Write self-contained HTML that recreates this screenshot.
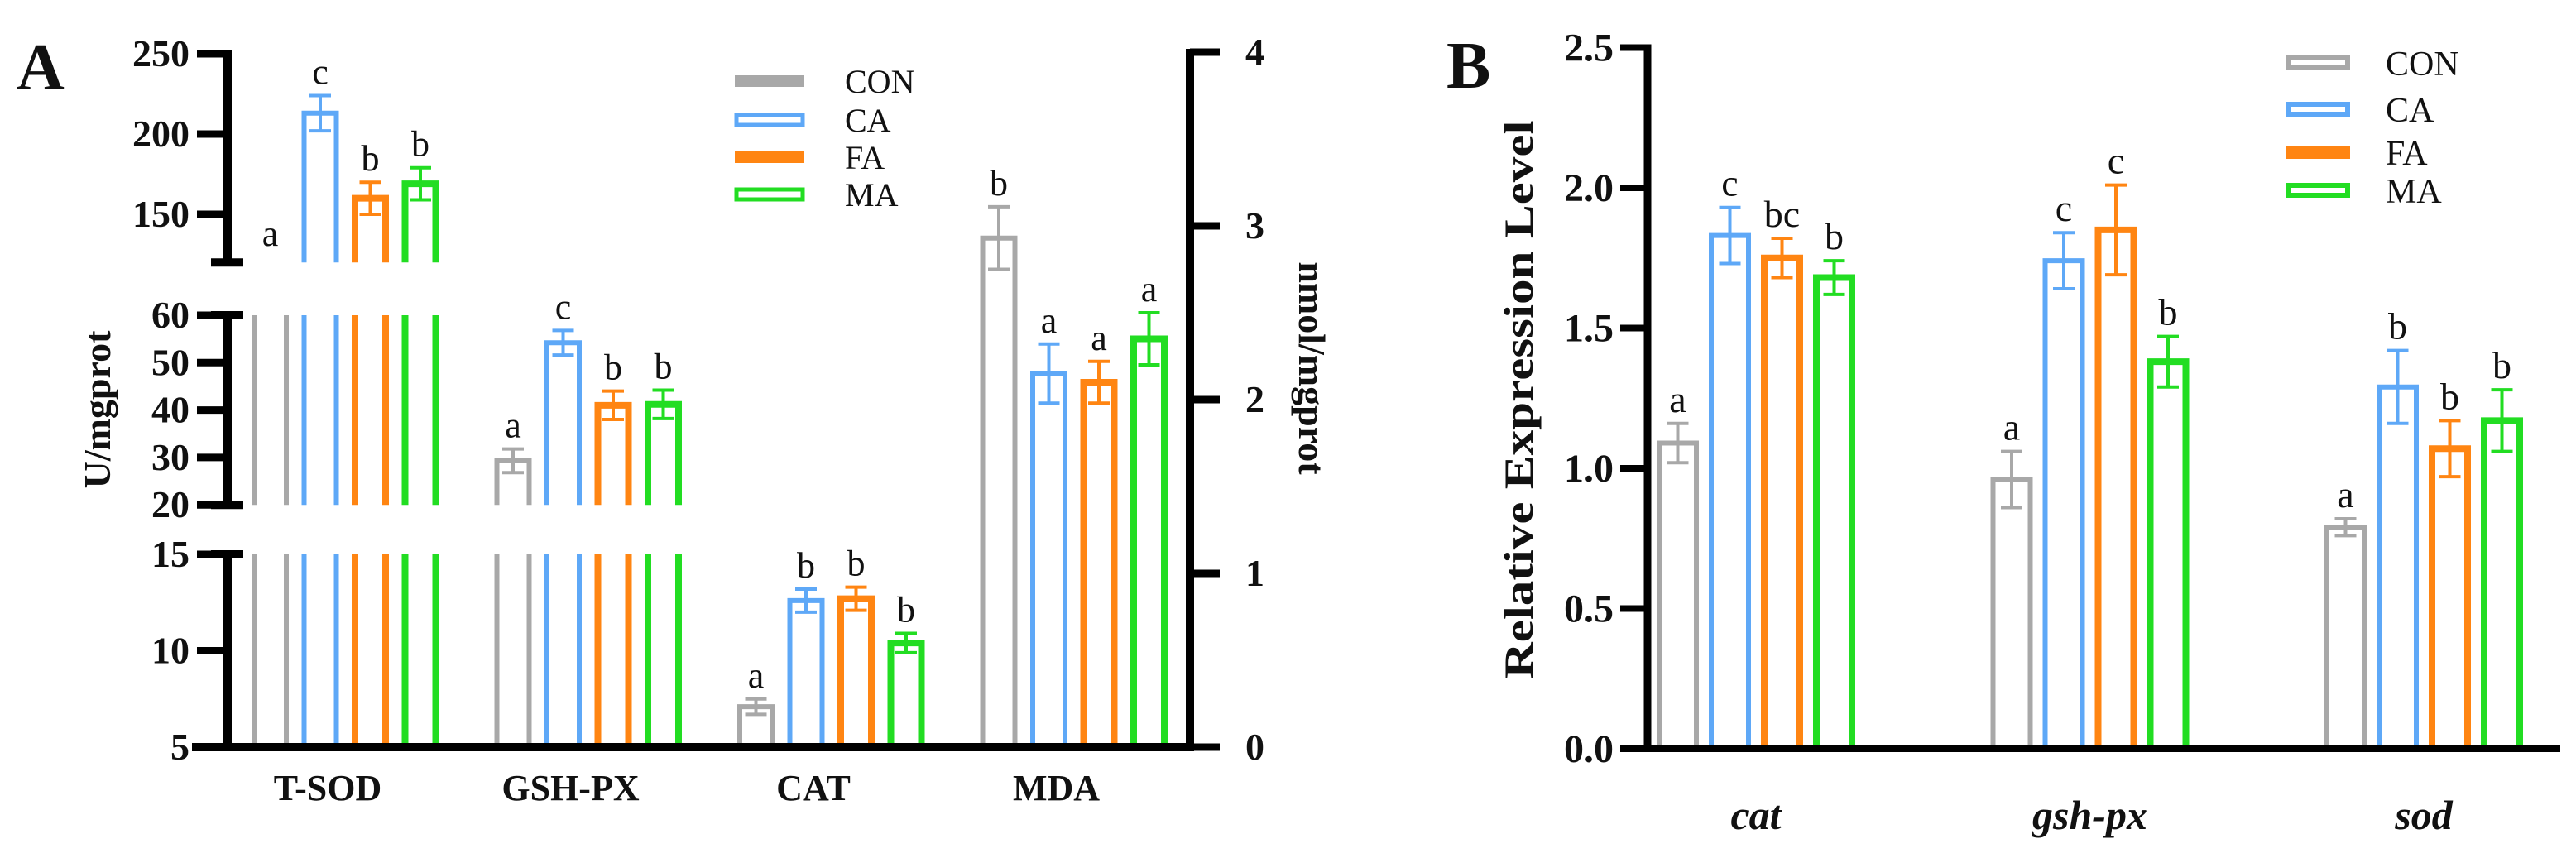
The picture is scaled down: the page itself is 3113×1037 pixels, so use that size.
<!DOCTYPE html>
<html><head><meta charset="utf-8"><style>
html,body{margin:0;padding:0;background:#fff;}
svg{display:block;}
text{font-family:"Liberation Serif","Times New Roman",serif;fill:#111;}
</style></head>
<body>
<svg id="chart" width="3113" height="1037" viewBox="0 0 3113 1037" xmlns="http://www.w3.org/2000/svg">
<g id="panelA"></g>
<g id="panelB"></g>
</svg>
<script>
// ---------- DATA ----------
const groups = ["CON","CA","FA","MA"];
const aCategories = ["T-SOD","GSH-PX","CAT","MDA"];
const aTSOD = [115, 213, 160, 169];
const aTSODErr = [0, 11, 10, 10];
const aGSH = [29.3, 54.2, 41, 41.2];
const aGSHErr = [2.5, 2.6, 3, 3];
const aCAT = [7.1, 12.6, 12.7, 10.4];
const aCATErr = [0.4, 0.6, 0.6, 0.5];
const aMDA = [2.93, 2.15, 2.1, 2.35];
const aMDAErr = [0.18, 0.17, 0.12, 0.15];
const aLetters = [["a","c","b","b"],["a","c","b","b"],["a","b","b","b"],["b","a","a","a"]];
const leftTicksTop = [250,200,150];
const leftTicksMid = [60,50,40,30,20];
const leftTicksBot = [15,10,5];
const rightTicks = [0,1,2,3,4];

const bCategories = ["cat","gsh-px","sod"];
const bValues = [[1.09,1.83,1.75,1.68],[0.96,1.74,1.85,1.38],[0.79,1.29,1.07,1.17]];
const bErrors = [[0.07,0.10,0.07,0.06],[0.10,0.10,0.16,0.09],[0.03,0.13,0.10,0.11]];
const bLetters = [["a","c","bc","b"],["a","c","c","b"],["a","b","b","b"]];
const bTicks = [0,0.5,1.0,1.5,2.0,2.5];

// ---------- HELPERS ----------
const NS="http://www.w3.org/2000/svg";
const colors=["#a8a8a8","#5ea8f7","#ff8512","#22dd22"];
function mk(parent,tag,attrs){const e=document.createElementNS(NS,tag);for(const k in attrs)e.setAttribute(k,attrs[k]);parent.appendChild(e);return e;}
const A=document.getElementById('panelA');
const B=document.getElementById('panelB');

// ---------- PANEL A scales ----------
const segs=[
 {lo:120,hi:250,y:v=>65+(250-v)*1.94},
 {lo:20,hi:60,y:v=>381+(60-v)*5.73},
 {lo:5,hi:15,y:v=>903-(v-5)*23.3}
];
const yRight=v=>903-v*210;
const AX=275, RX=1438, BASE=903;
const aBarX=(i,j)=>304+i*293.5+j*60.5;
const aBW=45;

// axes
let t;
for(const s of segs){
  const ln=mk(A,'line',{x1:AX,x2:AX,y1:s.y(s.hi)-4,y2:s.y(s.lo)+(s.lo===5?5:0),stroke:'#000','stroke-width':10});
  
  if(s.lo!==5){const c=mk(A,'line',{x1:AX-20,x2:AX+19,y1:s.y(s.lo),y2:s.y(s.lo),stroke:'#000','stroke-width':10});
    }
  if(s.hi!==250){const c=mk(A,'line',{x1:AX-20,x2:AX+19,y1:s.y(s.hi),y2:s.y(s.hi),stroke:'#000','stroke-width':10});
    }
}
[[leftTicksTop,segs[0]],[leftTicksMid,segs[1]],[leftTicksBot,segs[2]]].forEach(([ticks,s])=>{
  ticks.forEach(v=>{
    const y=s.y(v);
    const tk=mk(A,'line',{x1:238,x2:AX,y1:y,y2:y,stroke:'#000','stroke-width':9});
    
    t=mk(A,'text',{x:229,y:y+15,'text-anchor':'end','font-size':46,'font-weight':'bold'});t.textContent=v;
    
  });
});
// baseline
t=mk(A,'line',{x1:232,x2:RX+5,y1:BASE,y2:BASE,stroke:'#000','stroke-width':10});

// right axis
t=mk(A,'line',{x1:RX,x2:RX,y1:yRight(4)-4,y2:BASE+5,stroke:'#000','stroke-width':10});

rightTicks.forEach(v=>{
  const y=yRight(v);
  const tk=mk(A,'line',{x1:RX,x2:RX+36,y1:y,y2:y,stroke:'#000','stroke-width':9});
  
  t=mk(A,'text',{x:1505,y:y+15,'font-size':46,'font-weight':'bold'});t.textContent=v;
  
});
// titles
t=mk(A,'text',{x:20,y:108,'font-size':80,'font-weight':'bold'});t.textContent='A';

t=mk(A,'text',{x:0,y:0,'font-size':46,'font-weight':'bold','text-anchor':'middle',transform:'translate(133,495) rotate(-90)'});t.textContent='U/mgprot';

t=mk(A,'text',{x:0,y:0,'font-size':46,'font-weight':'bold','text-anchor':'middle',transform:'translate(1570,445) rotate(90)'});t.textContent='nmol/mgprot';


function barPath(x,w,yb,yt,top){
  return top?`M${x},${yb} L${x},${yt} L${x+w},${yt} L${x+w},${yb}`:`M${x},${yb} L${x},${yt} M${x+w},${yt} L${x+w},${yb}`;
}
const sw=[6,6,8,8];
const aData=[aTSOD,aGSH,aCAT,aMDA], aErr=[aTSODErr,aGSHErr,aCATErr,aMDAErr];
const aSegStart=[0,1,2];
aCategories.forEach((cat,i)=>{
  groups.forEach((g,j)=>{
    const v=aData[i][j], e=aErr[i][j];
    const x=aBarX(i,j)+sw[j]/2, w=aBW-sw[j];
    let labelY;
    if(i===3){
      const yt=yRight(v);
      const p=mk(A,'path',{d:barPath(x,w,BASE-5,yt,true),fill:'none',stroke:colors[j],'stroke-width':sw[j]});
      
      const eb=mk(A,'path',{d:`M${x+w/2},${yRight(v-e)} L${x+w/2},${yRight(v+e)} M${x+w/2-13},${yRight(v+e)} L${x+w/2+13},${yRight(v+e)} M${x+w/2-13},${yRight(v-e)} L${x+w/2+13},${yRight(v-e)}`,stroke:colors[j],'stroke-width':4,fill:'none'});
      
      labelY=yRight(v+e)-14;
    } else {
      segs.forEach((s,k)=>{
        if(k<aSegStart[i]) return;
        if(v<=s.lo) return;
        const top=v<=s.hi;
        const yt=s.y(Math.min(v,s.hi));
        const yb=s.lo===5?BASE-5:s.y(s.lo);
        const p=mk(A,'path',{d:barPath(x,w,yb,yt,top),fill:'none',stroke:colors[j],'stroke-width':sw[j]});
        
        if(top && e>0){
          const cx=x+w/2;
          const eb=mk(A,'path',{d:`M${cx},${s.y(v-e)} L${cx},${s.y(v+e)} M${cx-13},${s.y(v+e)} L${cx+13},${s.y(v+e)} M${cx-13},${s.y(v-e)} L${cx+13},${s.y(v-e)}`,stroke:colors[j],'stroke-width':4,fill:'none'});
          
          labelY=s.y(v+e)-14;
        }
      });
      if(labelY===undefined){
        const s=segs[aSegStart[i]];
        labelY=s.y(s.lo)-20;
      }
    }
    t=mk(A,'text',{x:aBarX(i,j)+aBW/2,y:labelY,'text-anchor':'middle','font-size':44});t.textContent=aLetters[i][j];
    
  });
  t=mk(A,'text',{x:aBarX(i,0)+92,y:967,'text-anchor':'middle','font-size':44,'font-weight':'bold'});t.textContent=cat;
  
});
// legend A
const legAy=[98,145,190,235];
groups.forEach((g,j)=>{
  let r;
  if(j===0||j===2){r=mk(A,'rect',{x:888,y:legAy[j]-7,width:84,height:14,fill:colors[j]});}
  else{r=mk(A,'rect',{x:890,y:legAy[j]-6,width:80,height:12,fill:'#fff',stroke:colors[j],'stroke-width':5});}
  
  t=mk(A,'text',{x:1021,y:legAy[j]+14,'font-size':40});t.textContent=g;
  
});

// ---------- PANEL B ----------
const BX=1991, BBASE=905;
const yB=v=>BBASE-v*339;
const bBarX=(i,j)=>2002+i*403.5+j*63;
const bBW=51;
t=mk(B,'line',{x1:BX,x2:BX,y1:yB(2.5)-4,y2:BBASE+4,stroke:'#000','stroke-width':9});

t=mk(B,'line',{x1:1958,x2:3094,y1:BBASE,y2:BBASE,stroke:'#000','stroke-width':8});

bTicks.forEach(v=>{
  const y=yB(v);
  const tk=mk(B,'line',{x1:1958,x2:BX,y1:y,y2:y,stroke:'#000','stroke-width':8});
  
  t=mk(B,'text',{x:1950,y:y+16,'text-anchor':'end','font-size':48,'font-weight':'bold'});t.textContent=v.toFixed(1);
  
});
t=mk(B,'text',{x:1748,y:106,'font-size':80,'font-weight':'bold'});t.textContent='B';

t=mk(B,'text',{x:0,y:0,'font-size':50,'font-weight':'bold','text-anchor':'middle',textLength:675,lengthAdjust:'spacingAndGlyphs',transform:'translate(1852,483) rotate(-90)'});t.textContent='Relative Expression Level';

bCategories.forEach((cat,i)=>{
  groups.forEach((g,j)=>{
    const v=bValues[i][j], e=bErrors[i][j];
    const x=bBarX(i,j)+sw[j]/2, w=bBW-sw[j];
    const p=mk(B,'path',{d:barPath(x,w,BBASE-4,yB(v),true),fill:'none',stroke:colors[j],'stroke-width':sw[j]});
    
    const cx=x+w/2;
    const eb=mk(B,'path',{d:`M${cx},${yB(v-e)} L${cx},${yB(v+e)} M${cx-13},${yB(v+e)} L${cx+13},${yB(v+e)} M${cx-13},${yB(v-e)} L${cx+13},${yB(v-e)}`,stroke:colors[j],'stroke-width':4,fill:'none'});
    
    t=mk(B,'text',{x:bBarX(i,j)+bBW/2,y:yB(v+e)-14,'text-anchor':'middle','font-size':46});t.textContent=bLetters[i][j];
    
  });
  t=mk(B,'text',{x:bBarX(i,0)+120,y:1002,'text-anchor':'middle','font-size':50,'font-weight':'bold','font-style':'italic'});t.textContent=cat;
  
});
const legBy=[76,132,184,230];
groups.forEach((g,j)=>{
  let r;
  if(j===2){r=mk(B,'rect',{x:2763,y:legBy[j]-8,width:77,height:16,fill:colors[j]});}
  else{r=mk(B,'rect',{x:2766,y:legBy[j]-6,width:71,height:12,fill:'#fff',stroke:colors[j],'stroke-width':6});}
  
  t=mk(B,'text',{x:2883,y:legBy[j]+15,'font-size':42});t.textContent=g;
  
});
</script>
</body></html>
